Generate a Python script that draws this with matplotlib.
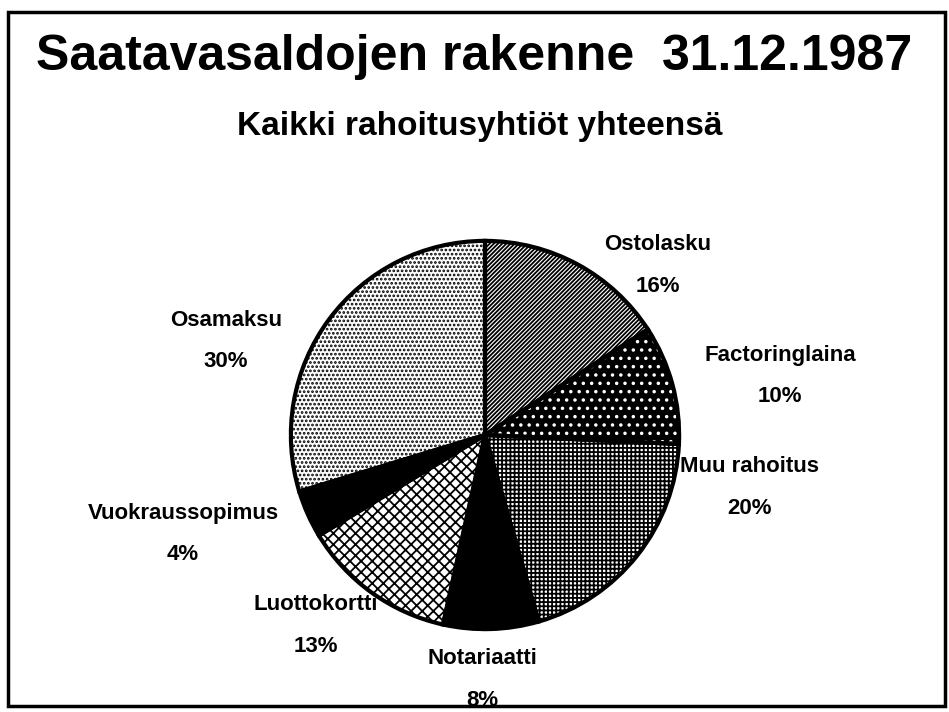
import matplotlib.pyplot as plt
from matplotlib.patches import Rectangle

plt.rcParams['font.family'] = ['Liberation Sans', 'DejaVu Sans']
plt.rcParams['hatch.linewidth'] = 1.3

# data
categories = ['Ostolasku', 'Factoringlaina', 'Muu rahoitus', 'Notariaatti',
              'Luottokortti', 'Vuokraussopimus', 'Osamaksu']
shares = [16, 10, 20, 8, 13, 4, 30]

# fill style per slice: (face, hatch colour, hatch)
styles = [('white', 'black', '////////'),
          ('black', 'white', '..'),
          ('white', 'black', '++++'),
          ('black', 'black', ''),
          ('white', 'black', 'xxx'),
          ('black', 'black', ''),
          ('white', 'black', '....')]

# label centres in pixel coords (x, y from top)
label_xy = [(658, 245), (780, 355), (750, 467), (482, 659),
            (316, 605), (183, 513), (226, 320)]

W, H = 949, 712
fig = plt.figure(figsize=(W / 100, H / 100), dpi=100)

cx, cy, r = 485, 435, 198
ax = fig.add_axes([(cx - r) / W, (H - cy - r) / H, 2 * r / W, 2 * r / H])
wedges, _ = ax.pie(shares, startangle=90, counterclock=False)
for w, (fc, hc, hatch) in zip(wedges, styles):
    w.set_facecolor(fc)
    w.set_edgecolor(hc)
    w.set_linewidth(0)
    w.set_hatch(hatch)
# outlines
ax.pie(shares, startangle=90, counterclock=False,
       wedgeprops=dict(fill=False, edgecolor='black', linewidth=3))
ax.set_xlim(-1.02, 1.02)
ax.set_ylim(-1.02, 1.02)

fig.text(0.5, 1 - 57 / H, 'Saatavasaldojen rakenne  31.12.1987',
         ha='center', va='center', fontsize=36, fontweight='bold')
fig.text(480 / W, 1 - 127 / H, 'Kaikki rahoitusyhtiöt yhteensä',
         ha='center', va='center', fontsize=24, fontweight='bold')

for name, val, (x, y) in zip(categories, shares, label_xy):
    fig.text(x / W, 1 - y / H, name, ha='center', va='center',
             fontsize=16, fontweight='bold')
    fig.text(x / W, 1 - (y + 41) / H, f'{val}%', ha='center', va='center',
             fontsize=16, fontweight='bold')

# frame
fig.patches.append(Rectangle((8 / W, 6 / H), 937 / W, 1 - 18 / H,
                             transform=fig.transFigure, fill=False,
                             edgecolor='black', linewidth=2.5))

fig.savefig('out.png', dpi=100, facecolor='white')
